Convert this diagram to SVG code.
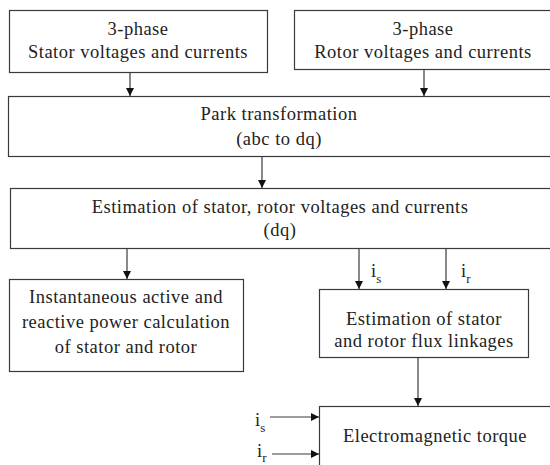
<svg xmlns="http://www.w3.org/2000/svg" width="550" height="465" viewBox="0 0 550 465" font-family="'Liberation Serif', 'Times New Roman', Times, serif">
  <style>
    .box { fill: #ffffff; stroke: #3a3a3a; stroke-width: 1.2; }
    .lbl { font-size: 18.5px; letter-spacing: 0.5px; fill: #222; text-anchor: middle; }
    .sig { font-size: 18.5px; fill: #222; }
    .sub { font-size: 13px; }
    .wire { stroke: #3a3a3a; stroke-width: 1.2; fill: none; marker-end: url(#head); }
  </style>
  <defs>
    <marker id="head" viewBox="0 0 10 10" refX="10" refY="5" markerWidth="8" markerHeight="8" markerUnits="userSpaceOnUse" orient="auto">
      <path d="M0,0 L10,5 L0,10 Z" fill="#111"/>
    </marker>
  </defs>
  <rect width="550" height="465" fill="#ffffff"/>

  <g id="stator-input">
    <rect class="box" x="9.5" y="10.5" width="258" height="62"/>
    <text class="lbl" x="138" y="35">3-phase</text>
    <text class="lbl" x="138" y="58">Stator voltages and currents</text>
  </g>

  <g id="rotor-input">
    <rect class="box" x="294.5" y="10.5" width="260" height="59"/>
    <text class="lbl" x="423" y="35">3-phase</text>
    <text class="lbl" x="423" y="58">Rotor voltages and currents</text>
  </g>

  <g id="park">
    <rect class="box" x="8.5" y="96.5" width="546" height="60"/>
    <text class="lbl" x="279" y="120">Park transformation</text>
    <text class="lbl" x="279" y="145">(abc to dq)</text>
  </g>

  <g id="dq-estimation">
    <rect class="box" x="10.5" y="188.5" width="544" height="60"/>
    <text class="lbl" x="280" y="213">Estimation of stator, rotor voltages and currents</text>
    <text class="lbl" x="280" y="236">(dq)</text>
  </g>

  <g id="power">
    <rect class="box" x="9.5" y="279.5" width="234" height="92"/>
    <text class="lbl" x="126" y="303">Instantaneous active and</text>
    <text class="lbl" x="126" y="328">reactive power calculation</text>
    <text class="lbl" x="126" y="353">of stator and rotor</text>
  </g>

  <g id="flux">
    <rect class="box" x="319.5" y="289.5" width="209" height="68"/>
    <text class="lbl" x="424" y="325">Estimation of stator</text>
    <text class="lbl" x="424" y="347">and rotor flux linkages</text>
  </g>

  <g id="torque">
    <rect class="box" x="319.5" y="406.5" width="240" height="70"/>
    <text class="lbl" x="435" y="442">Electromagnetic torque</text>
  </g>

  <g id="connectors">
    <line class="wire" x1="130" y1="72" x2="130" y2="96"/>
    <line class="wire" x1="424" y1="70" x2="424" y2="96"/>
    <line class="wire" x1="262" y1="157" x2="262" y2="188"/>
    <line class="wire" x1="127" y1="249" x2="127" y2="279"/>
    <line class="wire" x1="359" y1="249" x2="359" y2="289"/>
    <line class="wire" x1="446" y1="249" x2="446" y2="289"/>
    <line class="wire" x1="418" y1="358" x2="418" y2="406"/>
    <line class="wire" x1="270" y1="417" x2="319" y2="417"/>
    <line class="wire" x1="272" y1="454" x2="319" y2="454"/>
    <text class="sig" x="371" y="277">i<tspan class="sub" dy="6">s</tspan></text>
    <text class="sig" x="461" y="277">i<tspan class="sub" dy="6">r</tspan></text>
    <text class="sig" x="255" y="426">i<tspan class="sub" dy="6">s</tspan></text>
    <text class="sig" x="257" y="457">i<tspan class="sub" dy="5">r</tspan></text>
  </g>
</svg>
